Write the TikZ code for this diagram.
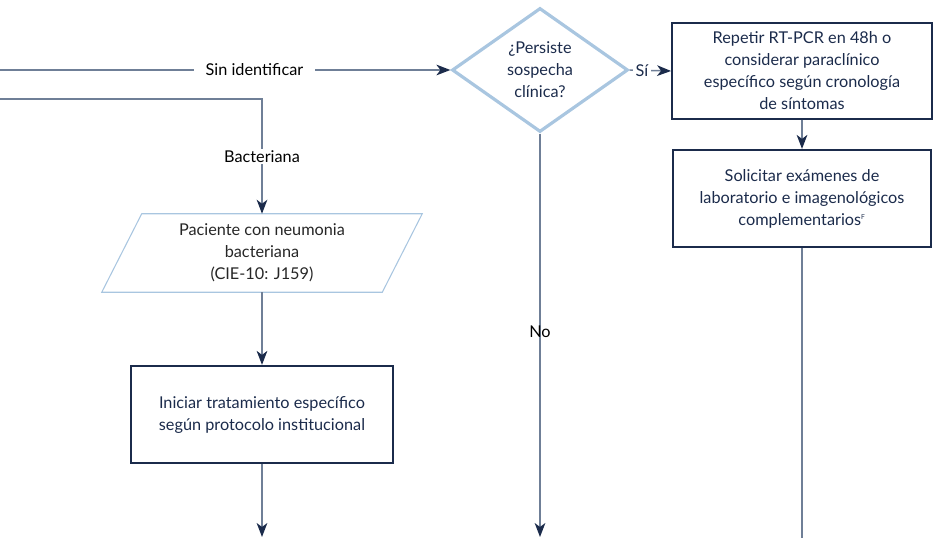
\documentclass[tikz,border=0pt]{standalone}
\usepackage{fontspec}
\setmainfont{Lato}
\usetikzlibrary{arrows.meta,positioning,shapes.geometric}
\definecolor{navy}{HTML}{1B2B4B}
\definecolor{linegray}{HTML}{6F7F97}
\definecolor{paleblue}{HTML}{A9C6E0}

\begin{document}
\begin{tikzpicture}[x=0.75pt, y=-0.75pt,
    font=\fontsize{12.2}{16.5}\selectfont,
    proc/.style={draw=navy, line width=1.4pt, text=navy, align=center, inner sep=0pt},
    decision/.style={diamond, draw=paleblue, line width=2.4pt, text=navy, align=center,
        minimum width=132pt, minimum height=93pt, inner sep=0pt},
    conn/.style={draw=linegray, line width=1.1pt},
    arr/.style={conn, -{Stealth[length=10.5pt, width=8pt, inset=3pt, color=navy]}},
    lbl/.style={fill=white, text=black, inner xsep=9pt, inner ysep=1pt}]
    \useasboundingbox (0,0) rectangle (934,538);

    % Decision
    \node[decision] (persiste) at (540,70) {¿Persiste\\sospecha\\clínica?};

    % Right branch
    \node[proc, minimum width=195pt, minimum height=72pt] (repetir) at (802,71)
        {Repetir RT-PCR en 48h o\\considerar paraclínico\\específico según cronología\\de síntomas};
    \node[proc, minimum width=194pt, minimum height=73pt] (solicitar) at (802,198.5)
        {Solicitar exámenes de\\laboratorio e imagenológicos\\complementarios\textsuperscript{\tiny F}};

    % Bacterial branch
    \node[text=black!85, align=center, minimum width=180pt, minimum height=58.5pt, inner sep=0pt]
        (paciente) at (262,253) {Paciente con neumonia\\bacteriana\\(CIE-10: J159)};
    \draw[paleblue, line width=0.8pt] ([xshift=-30pt]paciente.south west) -- (paciente.south east)
        -- ([xshift=30pt]paciente.north east) -- (paciente.north west) -- cycle;
    \node[proc, minimum width=196.5pt, minimum height=73pt] (iniciar) at (262,414.5)
        {Iniciar tratamiento específico\\según protocolo institucional};

    % Loose ends
    \coordinate (inSin) at (0,70);
    \coordinate (inBac) at (0,99);
    \coordinate (outNo) at (540,537);
    \coordinate (outIni) at (262,537);
    \coordinate (outSol) at (802,538);

    % Connectors
    \draw[arr] (inSin) -- (persiste.west) node[lbl, pos=0.565] {Sin identificar};
    \draw[arr] (inBac) -| (paciente.north) node[lbl, pos=0.75] {Bacteriana};
    \draw[arr] (persiste.east) -- (repetir.west) node[lbl, text=navy, inner xsep=2pt, pos=0.3] {Sí};
    \draw[arr] (persiste.south) -- (outNo) node[text=black, pos=0.49] {No};
    \draw[arr] (repetir) -- (solicitar);
    \draw[conn] (solicitar) -- (outSol);
    \draw[arr] (paciente) -- (iniciar);
    \draw[arr] (iniciar) -- (outIni);
\end{tikzpicture}
\end{document}
